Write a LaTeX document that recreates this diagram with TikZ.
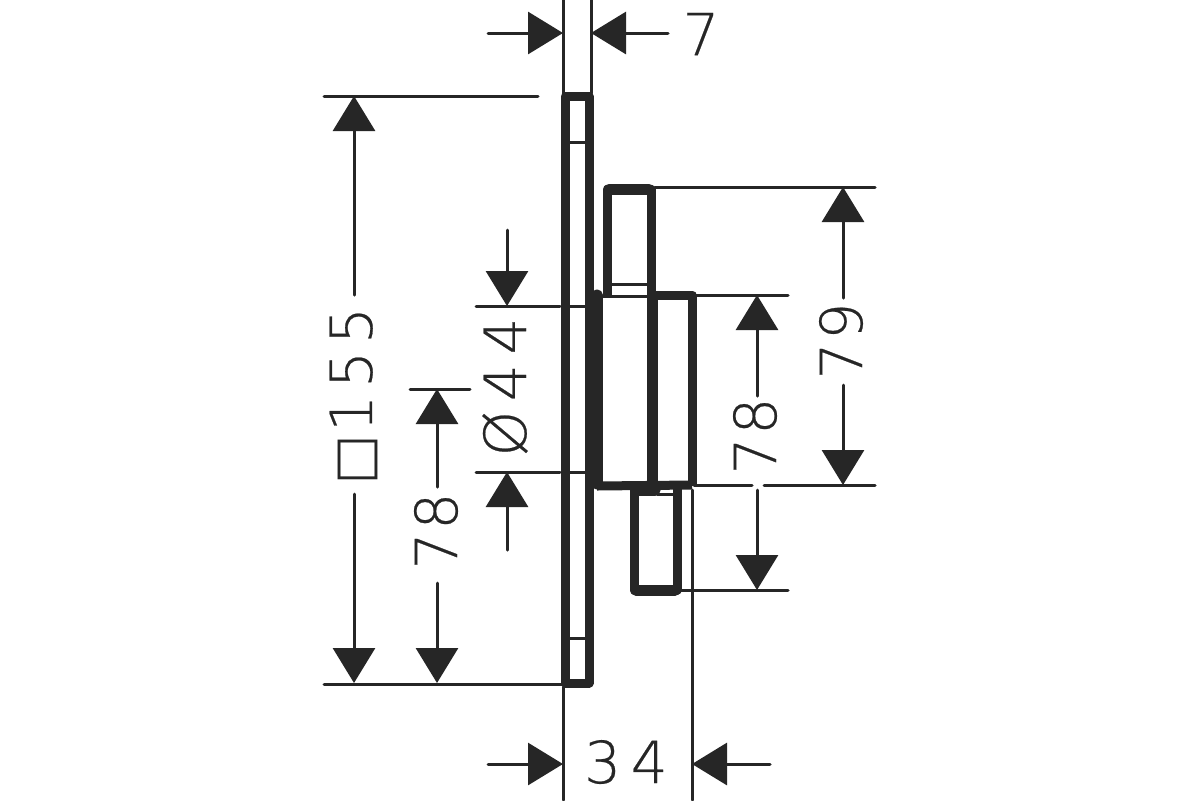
\documentclass[tikz,border=0pt]{standalone}
\usepackage{fontspec}
\setmainfont{DejaVu Sans}[UprightFont=* ExtraLight,BoldFont=* ExtraLight,BoldFeatures={FakeBold=0.4}]
\newfontfamily\symfont{DejaVu Sans}
\usetikzlibrary{arrows.meta}

\begin{document}
\begin{tikzpicture}[x=0.5pt,y=-0.5pt]
    \tikzstyle{edge}   = [line width=1.5pt,draw=ink,line cap=round]
    \tikzstyle{dedge}  = [edge,-{Triangle[length=17.5pt,width=21pt]}]
    \tikzstyle{wall}   = [line width=4.5pt,draw=ink,line join=round]
    \tikzstyle{heavy}  = [line width=5.5pt,draw=ink,line cap=round]
    \tikzstyle{label}  = [text=ink,font=\fontsize{29}{29}\selectfont\bfseries,inner sep=0pt]
    \colorlet{ink}{black!85}

    \useasboundingbox[fill=white] (0,0) rectangle (1200,800);

    % plate
    {
      \draw[wall] (565,96) rectangle (589,683);
      \draw[edge] (567,142)--(587,142);
      \draw[edge] (567,638)--(587,638);
    }

    % body and blocks
    {
      \draw[wall] (607,296)--(607,189)--(651,189)--(651,296);
      \draw[heavy] (609,189)--(649,189);
      \draw[edge] (609,284)--(649,284);
      \draw[edge] (600,296)--(650,296);
      \draw[wall] (652,295)--(692,295)--(692,486);
      \draw[heavy] (597,295)--(597,484);
      \draw[heavy] (652,295)--(652,486);
      \draw[wall] (597,486)--(692,485);
      \draw[wall] (634,486)--(634,590)--(677,590)--(677,488);
      \draw[heavy] (636,590)--(675,590);
      \draw[heavy] (636,490)--(655,490);
      \draw[edge] (657,494)--(675,494);
    }

    % width 7
    {
      \coordinate (sevenL) at (563,33);
      \coordinate (sevenR) at (591,33);
      \coordinate (sevenLtail) at (488,33);
      \coordinate (sevenRtail) at (668,33);
      \node[label] (seven) at (701,34) {7};
      \draw[edge] (563,0)--(563,93);
      \draw[edge] (591,0)--(591,93);
      \draw[dedge] (sevenLtail)--(sevenL);
      \draw[dedge] (sevenRtail)--(sevenR);
    }

    % square 155
    {
      \coordinate (plateT) at (354,96);
      \coordinate (plateB) at (354,683);
      \coordinate (plateTtail) at (354,295);
      \coordinate (plateBtail) at (354,494);
      \node[label,rotate=90] (plateDim) at (354,396) {{\symfont\mdseries\fontsize{26}{26}\selectfont □}\kern2pt 1\kern3.5pt 5\kern3.5pt 5};
      \draw[edge] (324,96)--(538,96);
      \draw[edge] (324,684)--(562,684);
      \draw[dedge] (plateTtail)--(plateT);
      \draw[dedge] (plateBtail)--(plateB);
    }

    % lower 78
    {
      \coordinate (lowT) at (437,389);
      \coordinate (lowB) at (437,683);
      \coordinate (lowTtail) at (437,487);
      \coordinate (lowBtail) at (437,583);
      \node[label,rotate=90] (lowDim) at (436,531) {7\kern1.5pt 8};
      \draw[edge] (410,389)--(470,389);
      \draw[dedge] (lowTtail)--(lowT);
      \draw[dedge] (lowBtail)--(lowB);
    }

    % diameter 44
    {
      \coordinate (diaT) at (507,306);
      \coordinate (diaB) at (507,472);
      \coordinate (diaTtail) at (507,230);
      \coordinate (diaBtail) at (507,550);
      \node[label,rotate=90] (diaDim) at (505,387) {Ø\,4\,4};
      \draw[edge] (476,306)--(560,306);
      \draw[edge] (476,472)--(560,472);
      \draw[edge] (569,306)--(585,306);
      \draw[edge] (569,472)--(585,472);
      \draw[dedge] (diaTtail)--(diaT);
      \draw[dedge] (diaBtail)--(diaB);
    }

    % right 79
    {
      \coordinate (outerT) at (843,187);
      \coordinate (outerB) at (843,485);
      \coordinate (outerTtail) at (843,298);
      \coordinate (outerBtail) at (843,385);
      \node[label,rotate=90] (outerDim) at (841,341) {7\kern1.5pt 9};
      \draw[edge] (655,187)--(875,187);
      \draw[edge] (694,485)--(752,485);
      \draw[edge] (764,485)--(875,485);
      \draw[dedge] (outerTtail)--(outerT);
      \draw[dedge] (outerBtail)--(outerB);
    }

    % inner 78
    {
      \coordinate (innerT) at (757,295);
      \coordinate (innerB) at (757,590);
      \coordinate (innerTtail) at (757,396);
      \coordinate (innerBtail) at (757,490);
      \node[label,rotate=90] (innerDim) at (755,436) {7\kern1.5pt 8};
      \draw[edge] (694,295)--(788,295);
      \draw[edge] (679,590)--(788,590);
      \draw[dedge] (innerTtail)--(innerT);
      \draw[dedge] (innerBtail)--(innerB);
    }

    % width 34
    {
      \coordinate (depthL) at (563,764);
      \coordinate (depthR) at (692,764);
      \coordinate (depthLtail) at (488,764);
      \coordinate (depthRtail) at (770,764);
      \node[label] (depthDim) at (626,762) {3\,4};
      \draw[edge] (563,687)--(563,800);
      \draw[edge] (692,490)--(692,800);
      \draw[dedge] (depthLtail)--(depthL);
      \draw[dedge] (depthRtail)--(depthR);
    }
\end{tikzpicture}
\end{document}
